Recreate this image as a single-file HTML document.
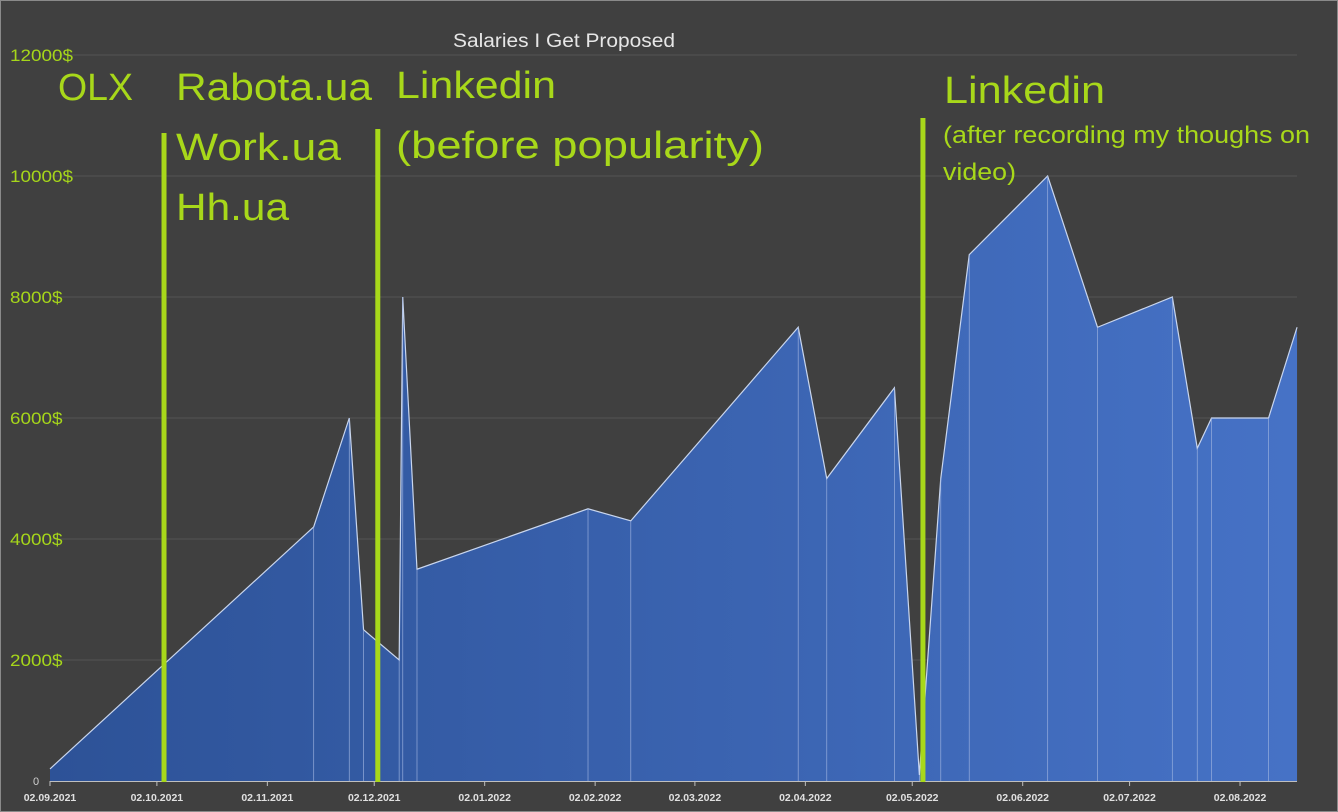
<!DOCTYPE html>
<html><head><meta charset="utf-8"><style>
html,body{margin:0;padding:0;background:#404040;}
svg{display:block;font-family:"Liberation Sans",sans-serif;}
</style></head><body>
<svg id="chart" width="1338" height="812">
<rect x="0.5" y="0.5" width="1337" height="811" fill="#404040" stroke="#8a8a8a"/>
<defs><linearGradient id="fillg" x1="0" x2="1" y1="0" y2="0"><stop offset="0" stop-color="#2d5297"/><stop offset="1" stop-color="#4672c6"/></linearGradient></defs>
<g id="grid"></g><g id="area"></g><g id="xaxis"></g><g id="yaxis"></g><g id="annot"></g>
<text x="453" y="47" fill="#e6e6e6" font-size="19" textLength="222" lengthAdjust="spacingAndGlyphs">Salaries I Get Proposed</text>
</svg>
<script>
const dates=["2021-09-02","2021-11-15","2021-11-25","2021-11-29","2021-12-09","2021-12-10","2021-12-14","2022-01-31","2022-02-12","2022-03-31","2022-04-08","2022-04-27","2022-05-04","2022-05-10","2022-05-18","2022-06-09","2022-06-23","2022-07-14","2022-07-21","2022-07-25","2022-08-10","2022-08-18"];
const salaries=[200,4200,6000,2500,2000,8000,3500,4500,4300,7500,5000,6500,100,5000,8700,10000,7500,8000,5500,6000,6000,7500];
const yTicks=[2000,4000,6000,8000,10000,12000];
const xTickDates=["2021-09-02","2021-10-02","2021-11-02","2021-12-02","2022-01-02","2022-02-02","2022-03-02","2022-04-02","2022-05-02","2022-06-02","2022-07-02","2022-08-02"];
const xTickLabels=["02.09.2021","02.10.2021","02.11.2021","02.12.2021","02.01.2022","02.02.2022","02.03.2022","02.04.2022","02.05.2022","02.06.2022","02.07.2022","02.08.2022"];
const markerDates=["2021-10-04","2021-12-03","2022-05-05"];
const markerTops=[133,129,118];
const NS="http://www.w3.org/2000/svg";
const t0=Date.UTC(2021,8,2);
function day(s){const p=s.split("-");return (Date.UTC(+p[0],+p[1]-1,+p[2])-t0)/86400000;}
function X(s){return 50+day(s)*3.563;}
function Y(v){return 781-v*0.0605;}
function mk(tag,attrs,parent){const e=document.createElementNS(NS,tag);for(const k in attrs)e.setAttribute(k,attrs[k]);parent.appendChild(e);return e;}
const grid=document.getElementById("grid"),area=document.getElementById("area"),xa=document.getElementById("xaxis"),ya=document.getElementById("yaxis"),an=document.getElementById("annot");
yTicks.forEach(v=>{
 const l=mk("line",{x1:50,x2:1297,y1:Y(v),y2:Y(v),stroke:"#545454","stroke-width":1},grid);
 
 
 const s=v+"$";
 const t=mk("text",{x:10,y:Y(v)+6,fill:"#a6d61a","font-size":17,textLength:s.length*10.5,lengthAdjust:"spacingAndGlyphs"},ya);
 t.textContent=s;
 
 
});
const z=mk("text",{x:33,y:785,fill:"#d0d0d0","font-size":11},ya);z.textContent="0";


let d="M"+X(dates[0])+","+Y(0);
dates.forEach((s,i)=>{d+=" L"+X(s)+","+Y(salaries[i]);});
d+=" L"+X(dates[dates.length-1])+","+Y(0)+" Z";
const p=mk("path",{d:d,fill:"url(#fillg)"},area);


let ld="";dates.forEach((s,i)=>{ld+=(i?" L":"M")+X(s)+","+Y(salaries[i]);});
const ln=mk("path",{d:ld,fill:"none",stroke:"#c9d6ee","stroke-width":1.2},area);


dates.forEach((s,i)=>{if(i==0||i==dates.length-1)return;
 const v=mk("line",{x1:X(s),x2:X(s),y1:Y(salaries[i]),y2:Y(0),stroke:"#9fb4e0","stroke-width":0.8,"stroke-opacity":0.8},area);
 
 
});
const ax=mk("line",{x1:50,x2:1297,y1:781.5,y2:781.5,stroke:"#bfbfbf","stroke-width":1},xa);


xTickDates.forEach((s,i)=>{
 const tk=mk("line",{x1:X(s),x2:X(s),y1:781,y2:786,stroke:"#bfbfbf"},xa);
 
 
 const t=mk("text",{x:X(s),y:801,fill:"#e0e0e0","font-size":10.5,"font-weight":"bold","text-anchor":"middle"},xa);
 t.textContent=xTickLabels[i];
 
 
});
markerDates.forEach((s,i)=>{
 const m=mk("line",{x1:X(s),x2:X(s),y1:markerTops[i],y2:782,stroke:"#a8d81a","stroke-width":5},an);
 
 
});
const labels=[["OLX",58,100,38,75],["Rabota.ua",176,100,38,196],["Work.ua",176,160,38,165],["Hh.ua",176,220,38,113],["Linkedin",396,98,38,160],["(before popularity)",396,158,38,368],["Linkedin",944,103,38,161],["(after recording my thoughs on",943,143,24,367],["video)",943,180,24,73]];
labels.forEach(a=>{
 const t=mk("text",{x:a[1],y:a[2],fill:"#a8d81a","font-size":a[3],textLength:a[4],lengthAdjust:"spacingAndGlyphs"},an);
 t.textContent=a[0];
 
 
});
</script>
</body></html>
